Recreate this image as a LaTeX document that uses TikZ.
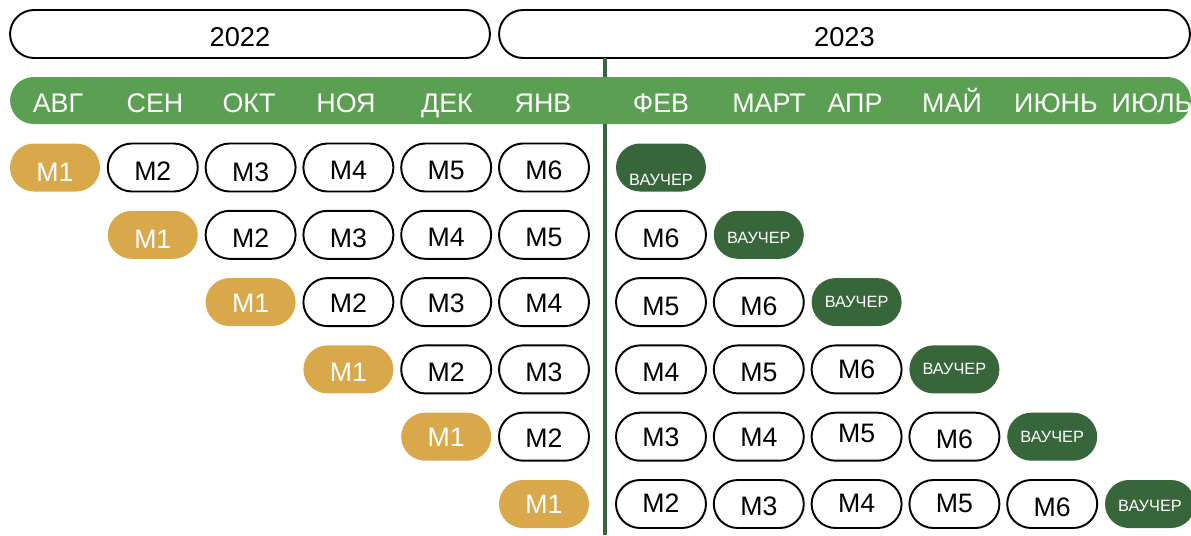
\documentclass[tikz,border=0pt]{standalone}
\usepackage{fontspec}
\setmainfont{Liberation Sans}
\usetikzlibrary{shapes.misc}
\usetikzlibrary{positioning}
\definecolor{barGreen}{HTML}{5B9F52}
\definecolor{darkGreen}{HTML}{36663A}
\definecolor{gold}{HTML}{D9A84B}
\newdimen\px \px=0.02cm
% move a text down by #1 px, keeping its box where it was
\newcommand{\nudge}[2]{\raisebox{-#1\px}[\height][\depth]{#2}}
\tikzset{pill/.style={rounded rectangle, minimum width=1.8cm, minimum height=0.96cm, inner sep=0pt},
         module/.style={pill, draw=black, line width=1.1pt, fill=white, font=\fontsize{15.2}{18}\selectfont},
         first/.style={pill, fill=gold, text=white, font=\fontsize{15.2}{18}\selectfont},
         voucher/.style={pill, fill=darkGreen, text=white, font=\fontsize{9.3}{12}\selectfont},
         year/.style={rounded rectangle, draw=black, line width=1.1pt, minimum height=0.96cm, inner sep=0pt, font=\fontsize{15.5}{18}\selectfont},
         month/.style={text=white, anchor=base, inner sep=0pt, font=\fontsize{15.3}{18}\selectfont},
         }

\begin{document}
\begin{tikzpicture}[x=0.02cm, y=-0.02cm]
\useasboundingbox (0,0) rectangle (1191,535);
\clip (0,0) rectangle (1191,535);
% years
\node[year, minimum width=9.6cm] (y22) at (250,34) {\hspace*{-20\px}\nudge{3}{2022}};
\node[year, minimum width=13.82cm] (y23) at (844.5,34) {\nudge{3}{2023}};
% split between the years
\coordinate (splitTop) at (605,58);
\coordinate (splitBot) at (605,535);
\draw[darkGreen, line width=2.2pt] (splitTop) -- (splitBot);
% months
\node[rounded rectangle, fill=barGreen, minimum width=23.62cm, minimum height=0.94cm, inner sep=0pt] (bar) at (600.5,100.5) {};
\foreach \m/\x [count=\i] in {АВГ/58, СЕН/155, ОКТ/249, НОЯ/346, ДЕК/447, ЯНВ/543,
                              ФЕВ/661, МАРТ/769, АПР/855, МАЙ/952, ИЮНЬ/1056, ИЮЛЬ/1152}
  \node[month] (mon\i) at (\x,112) {\m};
% one row per start month: M1..M6 and the voucher, with the text drops
\foreach \r/\dys in {1/{5,4,5,3,3,3,12}, 2/{5,3,3,3,3,3,3}, 3/{1,1,1,1,4,4,0},
                     4/{3,3,3,3,3,0,0}, 5/{1,1,1,1,-3,3,0}, 6/{0,-1,2,-1,-1,3,2}}{
  \pgfmathsetmacro\y{167.5+(\r-1)*67.3}
  \foreach \dy [count=\k] in \dys {
    \pgfmathtruncatemacro\c{\r+\k-1}
    \pgfmathsetmacro\x{\c<7 ? 55+(\c-1)*97.8 : 661+(\c-7)*97.8}
    \ifnum\k=1
      \node[first] (m\r-\k) at (\x,\y) {\nudge{\dy}{M\k}};
    \else\ifnum\k=7
      \node[voucher] (v\r) at (\x,\y) {\nudge{\dy}{ВАУЧЕР}};
    \else
      \node[module] (m\r-\k) at (\x,\y) {\nudge{\dy}{M\k}};
    \fi\fi
  }
}
\end{tikzpicture}
\end{document}
